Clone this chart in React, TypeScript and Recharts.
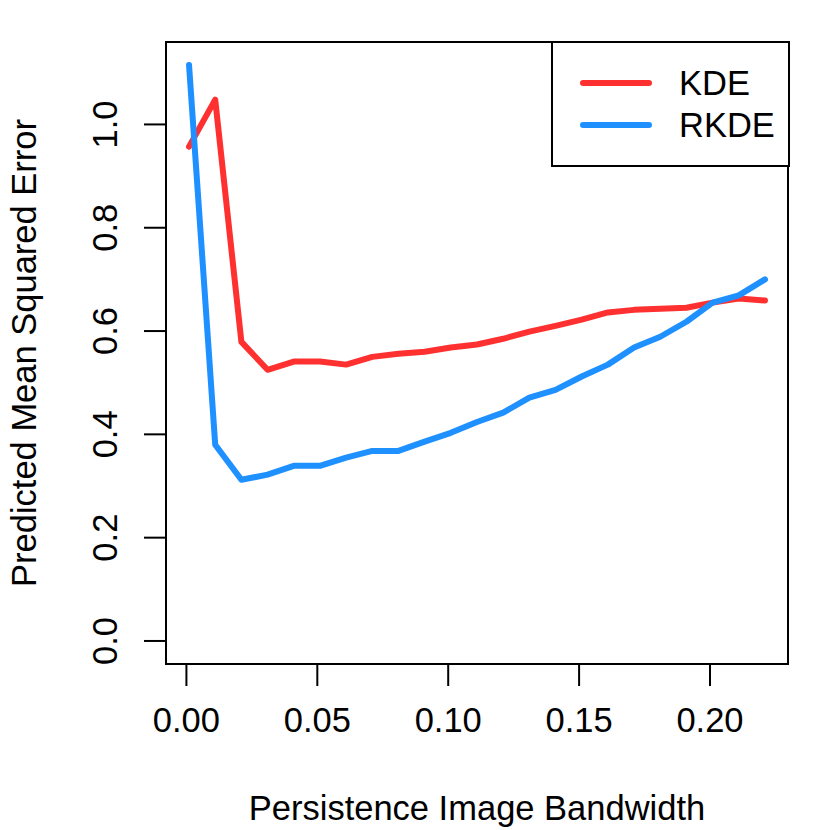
import React from 'react';
import {
  LineChart, Line, XAxis, YAxis, ReferenceArea, Legend
} from 'recharts';

// --- Data ---
const bandwidth = [
  0.001, 0.011, 0.021, 0.031, 0.041, 0.051, 0.061, 0.071, 0.081, 0.091, 0.101, 0.111,
  0.121, 0.131, 0.141, 0.151, 0.161, 0.171, 0.181, 0.191, 0.201, 0.211, 0.221,
];
const kdeErr = [
  0.957, 1.048, 0.579, 0.525, 0.541, 0.541, 0.535, 0.550, 0.556, 0.560, 0.568, 0.574,
  0.585, 0.599, 0.610, 0.622, 0.636, 0.641, 0.643, 0.645, 0.655, 0.663, 0.659,
];
const rkdeErr = [
  1.115, 0.380, 0.312, 0.322, 0.339, 0.339, 0.355, 0.368, 0.368, 0.386, 0.403, 0.424,
  0.442, 0.471, 0.486, 0.512, 0.535, 0.568, 0.589, 0.618, 0.655, 0.669, 0.700,
];
const xTicks = [0, 0.05, 0.1, 0.15, 0.2];
const yTicks = [0, 0.2, 0.4, 0.6, 0.8, 1.0];
const seriesNames = ['KDE', 'RKDE'];

const COLORS = { KDE: '#FF3030', RKDE: '#1E90FF' };
const FONT = '"Liberation Sans", Arial, Helvetica, sans-serif';
const FS = 34.5;
const X_DOMAIN: [number, number] = [-0.0078, 0.2298];
const Y_DOMAIN: [number, number] = [-0.0446, 1.1596];

const data = bandwidth.map((x, i) => ({ x, KDE: kdeErr[i], RKDE: rkdeErr[i] }));

// --- Ticks & labels ---
const XTick = ({ x, y, payload }: any) => (
  <text x={x} y={y + 44} textAnchor="middle" fontSize={FS} fontFamily={FONT} fill="#000">
    {Number(payload.value).toFixed(2)}
  </text>
);

const YTick = ({ x, y, payload }: any) => (
  <text x={x - 25} y={y} textAnchor="middle" fontSize={FS} fontFamily={FONT} fill="#000"
    transform={`rotate(-90, ${x - 25}, ${y})`}>
    {Number(payload.value).toFixed(1)}
  </text>
);

const XTitle = ({ viewBox }: any) => (
  <text x={viewBox.x + viewBox.width / 2} y={viewBox.y + 156} textAnchor="middle"
    fontSize={FS} fontFamily={FONT} fill="#000">
    Persistence Image Bandwidth
  </text>
);

const YTitle = ({ viewBox }: any) => {
  const cx = 36;
  const cy = viewBox.y + viewBox.height / 2;
  return (
    <text x={cx} y={cy} textAnchor="middle" fontSize={FS} fontFamily={FONT} fill="#000"
      transform={`rotate(-90, ${cx}, ${cy})`}>
      Predicted Mean Squared Error
    </text>
  );
};

const LegendBox = () => (
  <div style={{
    width: 235, height: 122, border: '2px solid #000', background: '#fff',
    fontFamily: FONT, fontSize: FS, boxSizing: 'content-box', position: 'relative',
  }}>
    {seriesNames.map((name, i) => (
      <div key={name} style={{
        position: 'absolute', left: 0, top: 22 + i * 42, height: 36,
        display: 'flex', alignItems: 'center',
      }}>
        <svg width={126} height={36}>
          <line x1={30} x2={96} y1={18} y2={18} stroke={COLORS[name as keyof typeof COLORS]}
            strokeWidth={6} strokeLinecap="round" />
        </svg>
        <span style={{ color: '#000' }}>{name}</span>
      </div>
    ))}
  </div>
);

// --- Main Component ---
const App: React.FC = () => (
  <div style={{ position: 'absolute', left: 0, top: 0, width: 830, height: 830, background: '#fff' }}>
    <LineChart width={830} height={830} data={data}
      margin={{ top: 42, right: 42, left: 0, bottom: 0 }}>
      <XAxis type="number" dataKey="x" domain={X_DOMAIN} ticks={xTicks} allowDataOverflow
        interval={0} height={166} axisLine={false} tickSize={22}
        tickLine={{ stroke: '#000', strokeWidth: 2 }} tick={<XTick />} label={<XTitle />} />
      <YAxis type="number" domain={Y_DOMAIN} ticks={yTicks} allowDataOverflow
        interval={0} width={166} axisLine={false} tickSize={22}
        tickLine={{ stroke: '#000', strokeWidth: 2 }} tick={<YTick />} label={<YTitle />} />
      <ReferenceArea x1={X_DOMAIN[0]} x2={X_DOMAIN[1]} y1={Y_DOMAIN[0]} y2={Y_DOMAIN[1]}
        fill="none" fillOpacity={0} stroke="#000" strokeWidth={2} />
      <Line type="linear" dataKey="KDE" stroke={COLORS.KDE} strokeWidth={6} dot={false}
        strokeLinejoin="round" strokeLinecap="round" isAnimationActive={false} />
      <Line type="linear" dataKey="RKDE" stroke={COLORS.RKDE} strokeWidth={6} dot={false}
        strokeLinejoin="round" strokeLinecap="round" isAnimationActive={false} />
      <Legend layout="horizontal" verticalAlign="middle" align="center" content={<LegendBox />}
        wrapperStyle={{ position: 'absolute', left: 551, top: 41, width: 'auto', height: 'auto' }} />
    </LineChart>
  </div>
);

export default App;
